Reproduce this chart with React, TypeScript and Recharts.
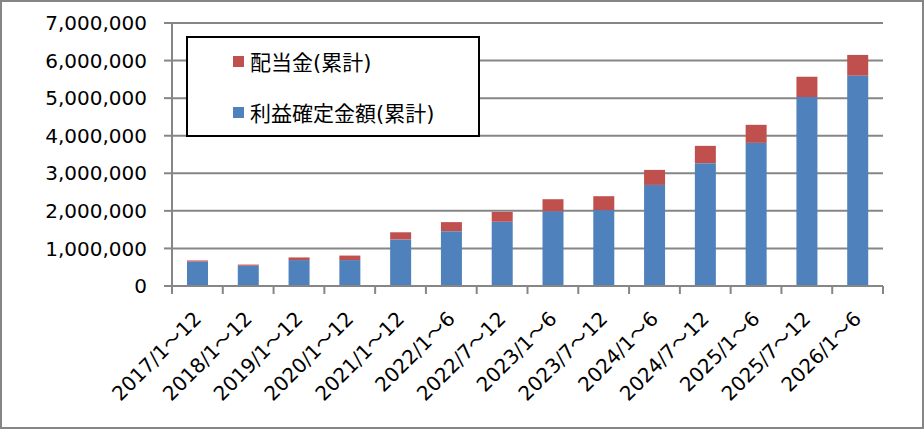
import { BarChart, Bar, XAxis, YAxis, CartesianGrid, Legend } from 'recharts';

const periods = [
  '2017/1～12',
  '2018/1～12',
  '2019/1～12',
  '2020/1～12',
  '2021/1～12',
  '2022/1～6',
  '2022/7～12',
  '2023/1～6',
  '2023/7～12',
  '2024/1～6',
  '2024/7～12',
  '2025/1～6',
  '2025/7～12',
  '2026/1～6',
];

// 利益確定金額(累計)
const realized = [
  650000, 540000, 690000, 690000, 1240000, 1460000, 1710000, 1990000, 2020000, 2690000,
  3270000, 3810000, 5030000, 5600000,
];

// 配当金(累計)
const dividends = [
  30000, 30000, 70000, 120000, 190000, 240000, 260000, 320000, 370000, 400000, 460000,
  480000, 540000, 550000,
];

const yTicks = [0, 1000000, 2000000, 3000000, 4000000, 5000000, 6000000, 7000000];

const data = periods.map((p, i) => ({
  period: p,
  realized: realized[i],
  dividends: dividends[i],
}));

const W = 924;
const H = 429;
const margin = { top: 23, right: 41, bottom: 0, left: 0 };
const Y_AXIS_W = 172;
const X_AXIS_H = 143;
const GRAY = '#868686';
const FONT = '"DejaVu Sans", Verdana, "Noto Sans CJK JP", sans-serif';

const plotW = W - margin.left - margin.right - Y_AXIS_W;
const step = plotW / periods.length;
const axisY = H - margin.bottom - X_AXIS_H;

function PeriodTick(props: any) {
  const { x, payload, index } = props;
  return (
    <g>
      <line x1={x - step / 2} x2={x - step / 2} y1={axisY} y2={axisY + 8} stroke={GRAY} strokeWidth={2} />
      {index === periods.length - 1 && (
        <line x1={x + step / 2} x2={x + step / 2} y1={axisY} y2={axisY + 8} stroke={GRAY} strokeWidth={2} />
      )}
      <g transform={`translate(${x + 5},${axisY + 34})`}>
        <text textAnchor="end" transform="rotate(-45)" fontSize={20} fill="#000" fontFamily={FONT}>
          {payload.value}
        </text>
      </g>
    </g>
  );
}

function LegendBox(props: any) {
  const items = [...(props.payload || [])].reverse();
  return (
    <div
      style={{
        position: 'relative',
        width: 294,
        height: 101,
        boxSizing: 'border-box',
        border: '2px solid #000',
        background: '#fff',
        fontFamily: FONT,
        fontSize: 21,
        color: '#000',
      }}
    >
      {items.map((it: any, i: number) => (
        <div
          key={it.value}
          style={{
            position: 'absolute',
            left: 45,
            top: 23 + i * 51 - 14,
            height: 28,
            display: 'flex',
            alignItems: 'center',
            whiteSpace: 'nowrap',
          }}
        >
          <span style={{ width: 11, height: 11, background: it.color, display: 'inline-block', marginRight: 6 }} />
          <span>{it.value}</span>
        </div>
      ))}
    </div>
  );
}

export default function App() {
  return (
    <div style={{ position: 'absolute', left: 0, top: 0, width: W, height: H, background: '#fff' }}>
      <BarChart width={W} height={H} data={data} margin={margin} barSize={21}>
        <CartesianGrid vertical={false} stroke={GRAY} strokeWidth={2} />
        <XAxis
          dataKey="period"
          height={X_AXIS_H}
          interval={0}
          axisLine={{ stroke: GRAY, strokeWidth: 2 }}
          tickLine={false}
          tick={<PeriodTick />}
        />
        <YAxis
          width={Y_AXIS_W}
          domain={[0, 7000000]}
          ticks={yTicks}
          interval={0}
          tickFormatter={(v: number) => v.toLocaleString('en-US')}
          axisLine={{ stroke: GRAY, strokeWidth: 2 }}
          tickLine={{ stroke: GRAY, strokeWidth: 2 }}
          tickSize={8}
          tickMargin={17}
          tick={{ fill: '#000', fontSize: 20, fontFamily: FONT }}
        />
        <Legend
          layout="vertical"
          align="center"
          verticalAlign="middle"
          content={<LegendBox />}
          wrapperStyle={{ left: 186, top: 36, width: 294, height: 101 }}
        />
        <Bar dataKey="realized" name="利益確定金額(累計)" stackId="a" fill="#4F81BD" isAnimationActive={false} />
        <Bar dataKey="dividends" name="配当金(累計)" stackId="a" fill="#C0504D" isAnimationActive={false} />
      </BarChart>
      <div
        style={{
          position: 'absolute',
          left: 0,
          top: 0,
          width: W,
          height: H,
          boxSizing: 'border-box',
          border: `2px solid ${GRAY}`,
          pointerEvents: 'none',
        }}
      />
    </div>
  );
}
